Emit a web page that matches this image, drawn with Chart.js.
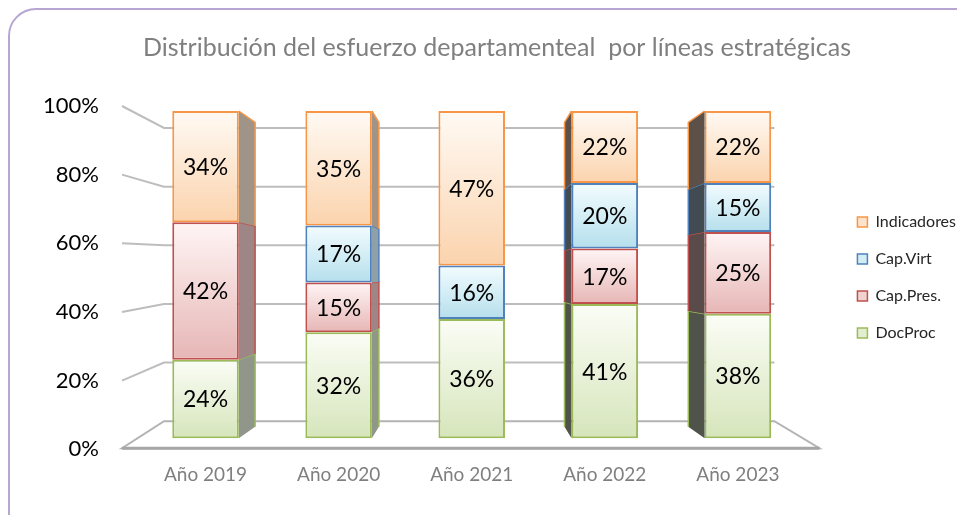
<!DOCTYPE html>
<html><head><meta charset="utf-8">
<script src="https://cdn.jsdelivr.net/npm/chart.js@4/dist/chart.umd.min.js"></script>
<style>
html,body{margin:0;padding:0;background:#fff;}
#wrap{position:relative;width:957px;height:515px;overflow:hidden;}
#frame{position:absolute;left:8px;top:8px;width:1000px;height:600px;border:2px solid #b7a6d3;border-radius:28px;box-sizing:border-box;}
canvas{position:absolute;left:0;top:0;}
</style></head><body>
<div id="wrap"><div id="frame"></div><canvas id="c" width="957" height="515"></canvas></div>
<script>
const categories = ['Año 2019', 'Año 2020', 'Año 2021', 'Año 2022', 'Año 2023'];
const seriesNames = ['DocProc', 'Cap.Pres.', 'Cap.Virt', 'Indicadores'];
const docProc     = [24, 32.4, 36.4, 41, 38];
const capPres     = [42, 15.2, 0,    17, 25];
const capVirt     = [0,  17.4, 16.4, 20, 15];
const indicadores = [34, 35.0, 47.2, 22, 22];
const yTickValues = [0, 20, 40, 60, 80, 100];
const titleText = 'Distribución del esfuerzo departamenteal  por líneas estratégicas';

const series = [docProc, capPres, capVirt, indicadores];
const borderCols = ['#9bbb59', '#c0504d', '#4f81bd', '#f79646'];
const topCols    = ['#fbfdf6', '#fff5f5', '#f3fcff', '#fffaf4'];
const botCols    = ['#d6e5bb', '#e6b6b5', '#b5dfec', '#fbd3ad'];
const legendFill = ['#e3eed0', '#f0d2d1', '#d3edf5', '#fde3cb'];
const sideRight  = ['#91968a', '#9e8686', '#8fa0a8', '#a09388'];
const sideLeft   = ['#4f534a', '#5a4a4a', '#414b51', '#5c5048'];

function segGradient(ctx) {
  const chart = ctx.chart, di = ctx.datasetIndex, i = ctx.dataIndex;
  const yB = chart.scales.yBar;
  if (ctx.type !== 'data' || !yB) return legendFill[di];
  let lo = 0;
  for (let d = 0; d < di; d++) lo += series[d][i];
  const hi = lo + series[di][i];
  const t = yB.getPixelForValue(hi), b = yB.getPixelForValue(lo);
  if (!isFinite(t) || !isFinite(b) || t === b) return legendFill[di];
  const g = chart.ctx.createLinearGradient(0, t, 0, b);
  g.addColorStop(0, topCols[di]);
  g.addColorStop(1, botCols[di]);
  return g;
}

const decorPlugin = {
  id: 'decor',
  beforeDatasetsDraw(chart) {
    const {ctx, chartArea: ca, scales} = chart;
    const yA = scales.y, yW = scales.yWall, yB = scales.yBar, xS = scales.x;
    const L0 = ca.left - 17, L1 = ca.left + 25, R0 = ca.right + 15, R1 = ca.right - 30;
    ctx.save();
    // floor
    ctx.beginPath();
    ctx.moveTo(L1, yW.getPixelForValue(0));
    ctx.lineTo(R1, yW.getPixelForValue(0));
    ctx.lineTo(R0, yA.getPixelForValue(0) - 1);
    ctx.lineTo(L0, yA.getPixelForValue(0) - 1);
    ctx.closePath();
    ctx.fillStyle = '#ffffff';
    ctx.fill();
    ctx.strokeStyle = '#b3b3b3';
    ctx.lineWidth = 2;
    ctx.stroke();
    ctx.beginPath();
    ctx.moveTo(L0, yA.getPixelForValue(0) - 1);
    ctx.lineTo(R0, yA.getPixelForValue(0) - 1);
    ctx.strokeStyle = '#a6a6a6';
    ctx.lineWidth = 3;
    ctx.stroke();
    // walls
    ctx.strokeStyle = '#bdbdbd';
    ctx.lineWidth = 2;
    yTickValues.forEach(v => {
      if (v === 0) return;
      ctx.beginPath();
      ctx.moveTo(L0, yA.getPixelForValue(v));
      ctx.lineTo(L1, yW.getPixelForValue(v));
      ctx.lineTo(R1, yW.getPixelForValue(v));
      ctx.stroke();
    });
    // side faces of bars (perspective toward centre category)
    const vpx = xS.getPixelForValue(Math.floor(categories.length / 2));
    const vpy = yB.getPixelForValue(50);
    const k = 0.93;
    chart.data.datasets.forEach((ds, di) => {
      const meta = chart.getDatasetMeta(di);
      meta.data.forEach((el, i) => {
        const v = ds.data[i];
        if (!v) return;
        const p = el.getProps(['x', 'y', 'base', 'width'], true);
        const half = p.width / 2;
        let ex, col;
        if (p.x < vpx - 2) { ex = p.x + half; col = sideRight[di]; }
        else if (p.x > vpx + 2) { ex = p.x - half; col = sideLeft[di]; }
        else return;
        const bx = vpx + (ex - vpx) * k;
        const byT = vpy + (p.y - vpy) * k;
        const byB = vpy + (p.base - vpy) * k;
        ctx.beginPath();
        ctx.moveTo(ex, p.y);
        ctx.lineTo(bx, byT);
        ctx.lineTo(bx, byB);
        ctx.lineTo(ex, p.base);
        ctx.closePath();
        ctx.fillStyle = col;
        ctx.fill();
        ctx.beginPath();
        ctx.moveTo(ex, p.y);
        ctx.lineTo(bx, byT);
        ctx.lineTo(bx, byB);
        ctx.strokeStyle = borderCols[di];
        ctx.lineWidth = 1.5;
        ctx.stroke();
      });
    });
    ctx.restore();
  },
  afterDatasetsDraw(chart) {
    const ctx = chart.ctx;
    ctx.save();
    ctx.font = '23px Lato';
    ctx.fillStyle = '#000000';
    ctx.textAlign = 'center';
    ctx.textBaseline = 'middle';
    chart.data.datasets.forEach((ds, di) => {
      const meta = chart.getDatasetMeta(di);
      meta.data.forEach((el, i) => {
        const v = ds.data[i];
        if (!v) return;
        const p = el.getProps(['x', 'y', 'base'], true);
        ctx.fillText(Math.round(v) + '%', p.x, (p.y + p.base) / 2 + 1);
      });
    });
    ctx.restore();
  }
};

new Chart(document.getElementById('c'), {
  type: 'bar',
  data: {
    labels: categories,
    datasets: series.map((d, di) => ({
      label: seriesNames[di],
      data: d,
      yAxisID: 'yBar',
      backgroundColor: segGradient,
      borderColor: borderCols[di],
      borderWidth: 2,
      borderSkipped: false,
      barPercentage: 0.5,
      categoryPercentage: 1.0
    }))
  },
  options: {
    responsive: false,
    animation: false,
    events: [],
    layout: {padding: {left: 28, right: -9, top: 0, bottom: 15}},
    plugins: {
      title: {
        display: true, text: titleText, color: '#7f7f7f',
        font: {family: 'Lato', size: 25, weight: 'normal'},
        padding: {top: 33, bottom: 43}
      },
      legend: {
        position: 'right', reverse: true, fullSize: false,
        labels: {
          boxWidth: 10, boxHeight: 10, padding: 21, color: '#262626',
          font: {family: 'Lato', size: 16},
          generateLabels: (chart) => chart.data.datasets.map((ds, di) => ({
            text: ds.label, fillStyle: legendFill[di], strokeStyle: borderCols[di],
            lineWidth: 1.5, hidden: false, datasetIndex: di, fontColor: '#262626'
          }))
        }
      },
      tooltip: {enabled: false}
    },
    scales: {
      x: {
        stacked: true,
        grid: {display: false, drawTicks: false},
        border: {display: false},
        ticks: {color: '#7f7f7f', font: {family: 'Lato', size: 19}, padding: 14}
      },
      y: {
        position: 'left', min: 0, max: 100,
        grid: {display: false, drawTicks: false},
        border: {display: false},
        ticks: {stepSize: 20, callback: v => v + '%', color: '#000000', font: {family: 'Lato', size: 22}, padding: 40},
        afterFit: s => { s.width = 111; }
      },
      yBar: {
        position: 'right', stacked: true, min: -3.364, max: 101.53,
        grid: {display: false, drawTicks: false},
        border: {display: false},
        ticks: {display: false},
        afterFit: s => { s.width = 32; }
      },
      yWall: {display: false, min: -9.556, max: 107.5}
    }
  },
  plugins: [decorPlugin]
});
</script>
</body></html>
